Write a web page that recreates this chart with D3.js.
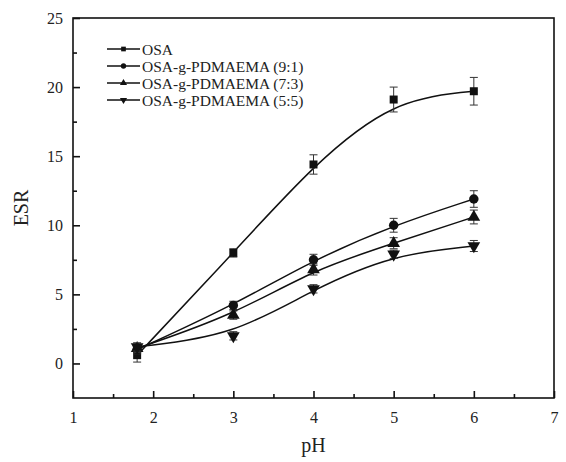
<!DOCTYPE html>
<html>
<head>
<meta charset="utf-8">
<script src="https://cdn.jsdelivr.net/npm/d3@7"></script>
<style>
  body { margin: 0; background: #fff; }
  text { font-family: "Liberation Serif", "DejaVu Serif", serif; fill: #222; }
</style>
</head>
<body>
<svg id="chart"></svg>
<script>
var width = 566, height = 462;
var margin = { left: 73, right: 12, top: 18, bottom: 64 };

// data
var phValues = [1.8, 3, 4, 5, 6];
var seriesNames = ["OSA", "OSA-g-PDMAEMA (9:1)", "OSA-g-PDMAEMA (7:3)", "OSA-g-PDMAEMA (5:5)"];
var osa = [0.6, 8.0, 14.4, 19.1, 19.7];
var osaErr = [0.5, 0.3, 0.7, 0.9, 1.0];
var g91 = [1.0, 4.2, 7.5, 10.0, 11.9];
var g91Err = [0.3, 0.3, 0.4, 0.5, 0.6];
var g73 = [1.1, 3.5, 6.8, 8.7, 10.6];
var g73Err = [0.3, 0.3, 0.4, 0.4, 0.5];
var g55 = [1.2, 2.0, 5.4, 7.9, 8.5];
var g55Err = [0.3, 0.3, 0.3, 0.3, 0.4];
var xTicks = [1, 2, 3, 4, 5, 6, 7];
var yTicks = [0, 5, 10, 15, 20, 25];

var markers = [d3.symbolSquare, d3.symbolCircle, d3.symbolTriangle, "down"];
var allValues = [osa, g91, g73, g55];
var allErr = [osaErr, g91Err, g73Err, g55Err];

var svg = d3.select("#chart").attr("width", width).attr("height", height);

var x = d3.scaleLinear().domain([1, 7]).range([margin.left, width - margin.right]);
var y = d3.scaleLinear().domain([-2.5, 25]).range([height - margin.bottom, margin.top]);

function markerPath(type, size) {
  if (type === "down") {
    return d3.symbol().type(d3.symbolTriangle).size(size)();
  }
  return d3.symbol().type(type).size(size)();
}

// frame
svg.append("rect")
  .attr("x", x(1)).attr("y", y(25))
  .attr("width", x(7) - x(1)).attr("height", y(-2.5) - y(25))
  .attr("fill", "none").attr("stroke", "#111").attr("stroke-width", 1.6);

// x axis with inward ticks
var xAxis = svg.append("g").attr("transform", "translate(0," + y(-2.5) + ")");
xAxis.call(d3.axisBottom(x).tickValues(xTicks).tickSize(-7).tickPadding(14).tickFormat(d3.format("d")));
xAxis.append("g").call(d3.axisBottom(x).tickValues(d3.range(1.5, 7, 1)).tickSize(-4).tickFormat(""));
xAxis.selectAll(".domain").remove();
xAxis.selectAll("line").attr("stroke", "#111").attr("stroke-width", 1.6);
xAxis.selectAll("text").style("font-size", "16px").attr("fill", "#222");

var yAxis = svg.append("g").attr("transform", "translate(" + x(1) + ",0)");
yAxis.call(d3.axisLeft(y).tickValues(yTicks).tickSize(-7).tickPadding(10));
yAxis.append("g").call(d3.axisLeft(y).tickValues([2.5, 7.5, 12.5, 17.5, 22.5]).tickSize(-4).tickFormat(""));
yAxis.selectAll(".domain").remove();
yAxis.selectAll("line").attr("stroke", "#111").attr("stroke-width", 1.6);
yAxis.selectAll("text").style("font-size", "16px").attr("fill", "#222");

// axis titles
svg.append("text")
  .attr("x", (x(1) + x(7)) / 2).attr("y", 452)
  .attr("text-anchor", "middle").style("font-size", "20px").text("pH");
svg.append("text")
  .attr("transform", "translate(28," + ((y(25) + y(-2.5)) / 2) + ") rotate(-90)")
  .attr("text-anchor", "middle").style("font-size", "20px").text("ESR");

var line = d3.line()
  .x(function(d) { return x(d.ph); })
  .y(function(d) { return y(d.v); })
  .curve(d3.curveBasis);

allValues.forEach(function(vals, s) {
  var pts = phValues.map(function(p, i) { return { ph: p, v: vals[i], e: allErr[s][i] }; });
  var g = svg.append("g");
  g.append("path").datum(pts).attr("d", line)
    .attr("fill", "none").attr("stroke", "#111").attr("stroke-width", 1.5);

  var eb = g.selectAll(".err").data(pts).enter().append("g");
  eb.append("line")
    .attr("x1", function(d) { return x(d.ph); }).attr("x2", function(d) { return x(d.ph); })
    .attr("y1", function(d) { return y(d.v - d.e); }).attr("y2", function(d) { return y(d.v + d.e); })
    .attr("stroke", "#333").attr("stroke-width", 1);
  [-1, 1].forEach(function(sign) {
    eb.append("line")
      .attr("x1", function(d) { return x(d.ph) - 4; }).attr("x2", function(d) { return x(d.ph) + 4; })
      .attr("y1", function(d) { return y(d.v + sign * d.e); }).attr("y2", function(d) { return y(d.v + sign * d.e); })
      .attr("stroke", "#333").attr("stroke-width", 1);
  });

  g.selectAll(".pt").data(pts).enter().append("path")
    .attr("d", markerPath(markers[s], s === 0 ? 64 : 70))
    .attr("transform", function(d) {
      return "translate(" + x(d.ph) + "," + y(d.v) + ")" + (markers[s] === "down" ? " rotate(180)" : "");
    })
    .attr("fill", "#111");
});

// legend
var legend = svg.append("g").attr("transform", "translate(107,49)");
seriesNames.forEach(function(name, i) {
  var row = legend.append("g").attr("transform", "translate(0," + (i * 17) + ")");
  row.append("line").attr("x1", 0).attr("x2", 33).attr("y1", 0).attr("y2", 0)
    .attr("stroke", "#111").attr("stroke-width", 1.5);
  row.append("path").attr("d", markerPath(markers[i], 22))
    .attr("transform", "translate(16.5,0)" + (markers[i] === "down" ? " rotate(180)" : ""))
    .attr("fill", "#111");
  row.append("text").attr("x", 35).attr("y", 5.5).style("font-size", "15.5px").text(name);
});
</script>
</body>
</html>
